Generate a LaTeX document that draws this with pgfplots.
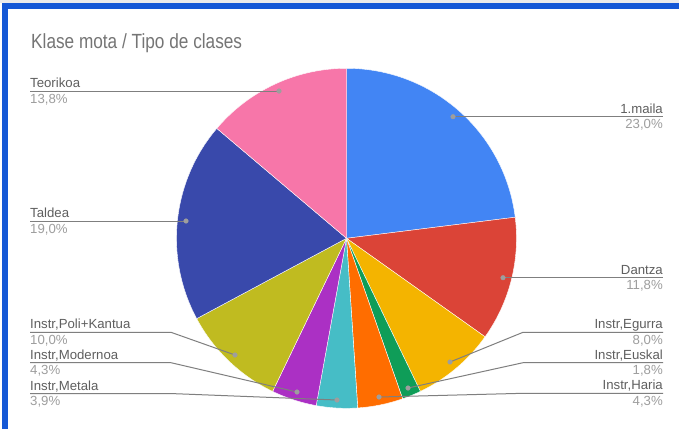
\documentclass[border=0pt]{standalone}
\usepackage{pgfplots}
\pgfplotsset{compat=1.18}
\usepackage{pgfplotstable}
\usepackage{fontspec}
\setmainfont{Liberation Sans}
\definecolor{c1}{HTML}{4285F4}
\definecolor{c2}{HTML}{DB4437}
\definecolor{c3}{HTML}{F4B400}
\definecolor{c4}{HTML}{0F9D58}
\definecolor{c5}{HTML}{FF6D00}
\definecolor{c6}{HTML}{46BDC6}
\definecolor{c7}{HTML}{AB30C4}
\definecolor{c8}{HTML}{C0BB20}
\definecolor{c9}{HTML}{3949AB}
\definecolor{c10}{HTML}{F776A9}
\definecolor{frameblue}{HTML}{1558D6}
\definecolor{titlegray}{HTML}{757575}
\definecolor{namegray}{HTML}{5F5F5F}
\definecolor{pctgray}{HTML}{9E9E9E}
\definecolor{leadgray}{HTML}{7F7F7F}

\pgfplotstableread[col sep=semicolon]{
label;value;color
1.maila;23.0;c1
Dantza;11.8;c2
Instr,Egurra;8.0;c3
Instr,Euskal;1.8;c4
Instr,Haria;4.3;c5
Instr,Metala;3.9;c6
Instr,Modernoa;4.3;c7
Instr,Poli+Kantua;10.0;c8
Taldea;19.0;c9
Teorikoa;13.8;c10
}\piedata

\begin{document}
\begin{tikzpicture}
\begin{axis}[scale only axis, width=679pt, height=429pt,
  xmin=0, xmax=679, ymin=0, ymax=429, y dir=reverse,
  hide axis, clip=false]
% background and frame
\fill[white] (axis cs:0,0) rectangle (axis cs:679,429);
\fill[black!8] (axis cs:0,0) rectangle (axis cs:679,3);
\fill[frameblue] (axis cs:2,3) rectangle (axis cs:679,9);
\fill[frameblue] (axis cs:2,3) rectangle (axis cs:8,429);
% pie
\pgfplotstablegetrowsof{\piedata}
\pgfmathtruncatemacro\N{\pgfplotsretval-1}
\def\total{0}
\pgfplotsforeachungrouped \i in {0,...,\N}{%
  \pgfplotstablegetelem{\i}{value}\of\piedata
  \pgfmathsetmacro\total{\total+\pgfplotsretval}%
}
\def\cum{0}
\pgfplotsforeachungrouped \i in {0,...,\N}{%
  \pgfplotstablegetelem{\i}{value}\of\piedata \let\v\pgfplotsretval
  \pgfplotstablegetelem{\i}{color}\of\piedata \let\c\pgfplotsretval
  \pgfmathsetmacro\a{90-(\cum/\total)*360}%
  \pgfmathsetmacro\b{90-((\cum+\v)/\total)*360}%
  \edef\temp{\noexpand\fill[\c, draw=white, line width=0.4pt] (axis cs:346.5,238.3) -- ++(\a:170pt) arc[start angle=\a, end angle=\b, radius=170pt] -- cycle;}%
  \temp
  \pgfmathsetmacro\cum{\cum+\v}%
}
% leader lines
\pgfplotsset{every axis plot/.append style={}}
\addplot[leadgray, line width=1pt, no marks] coordinates {(30,91) (279,91)};
\addplot[leadgray, line width=1pt, no marks] coordinates {(30,221) (186,221)};
\addplot[leadgray, line width=1pt, no marks] coordinates {(30,332.3) (171,332.3) (235,355)};
\addplot[leadgray, line width=1pt, no marks] coordinates {(30,362.7) (171,362.7) (297,392)};
\addplot[leadgray, line width=1pt, no marks] coordinates {(30,393.5) (170,393.5) (337,400)};
\addplot[leadgray, line width=1pt, no marks] coordinates {(453,116.7) (663,116.7)};
\addplot[leadgray, line width=1pt, no marks] coordinates {(503,277.7) (663,277.7)};
\addplot[leadgray, line width=1pt, no marks] coordinates {(450,362) (523,332.3) (663,332.3)};
\addplot[leadgray, line width=1pt, no marks] coordinates {(408,388) (523,362.7) (663,362.7)};
\addplot[leadgray, line width=1pt, no marks] coordinates {(379,397) (523,393.3) (663,393.3)};
\addplot[only marks, mark=*, mark size=2.3pt, pctgray, mark options={draw=pctgray, fill=pctgray}] coordinates {
(279,91) (186,221) (235,355) (297,392) (337,400) (453,116.7) (503,277.7) (450,362) (408,388) (379,397)};
% title
\node[anchor=base west, inner sep=0, text=titlegray] at (axis cs:31,48.3) {\scalebox{0.84}[1]{\fontsize{20.5}{24}\selectfont Klase mota / Tipo de clases}};
% labels left
\begin{scope}[every node/.style={inner sep=0, font=\fontsize{13.2}{15}\selectfont}]
\node[anchor=base west, text=namegray] at (axis cs:30,87.3) {Teorikoa};
\node[anchor=base west, text=pctgray] at (axis cs:30,103) {13,8\%};
\node[anchor=base west, text=namegray] at (axis cs:30,217.7) {Taldea};
\node[anchor=base west, text=pctgray] at (axis cs:30,233) {19,0\%};
\node[anchor=base west, text=namegray] at (axis cs:30,328.8) {Instr,Poli+Kantua};
\node[anchor=base west, text=pctgray] at (axis cs:30,344.5) {10,0\%};
\node[anchor=base west, text=namegray] at (axis cs:30,359.2) {Instr,Modernoa};
\node[anchor=base west, text=pctgray] at (axis cs:30,374.8) {4,3\%};
\node[anchor=base west, text=namegray] at (axis cs:30,390) {Instr,Metala};
\node[anchor=base west, text=pctgray] at (axis cs:30,405.5) {3,9\%};
% labels right
\node[anchor=base east, text=namegray] at (axis cs:663,113.2) {1.maila};
\node[anchor=base east, text=pctgray] at (axis cs:663,128.8) {23,0\%};
\node[anchor=base east, text=namegray] at (axis cs:663,274.2) {Dantza};
\node[anchor=base east, text=pctgray] at (axis cs:663,289.8) {11,8\%};
\node[anchor=base east, text=namegray] at (axis cs:663,328.8) {Instr,Egurra};
\node[anchor=base east, text=pctgray] at (axis cs:663,344.5) {8,0\%};
\node[anchor=base east, text=namegray] at (axis cs:663,359.2) {Instr,Euskal};
\node[anchor=base east, text=pctgray] at (axis cs:663,374.8) {1,8\%};
\node[anchor=base east, text=namegray] at (axis cs:663,389.8) {Instr,Haria};
\node[anchor=base east, text=pctgray] at (axis cs:663,405.5) {4,3\%};
\end{scope}
\end{axis}
\end{tikzpicture}
\end{document}
